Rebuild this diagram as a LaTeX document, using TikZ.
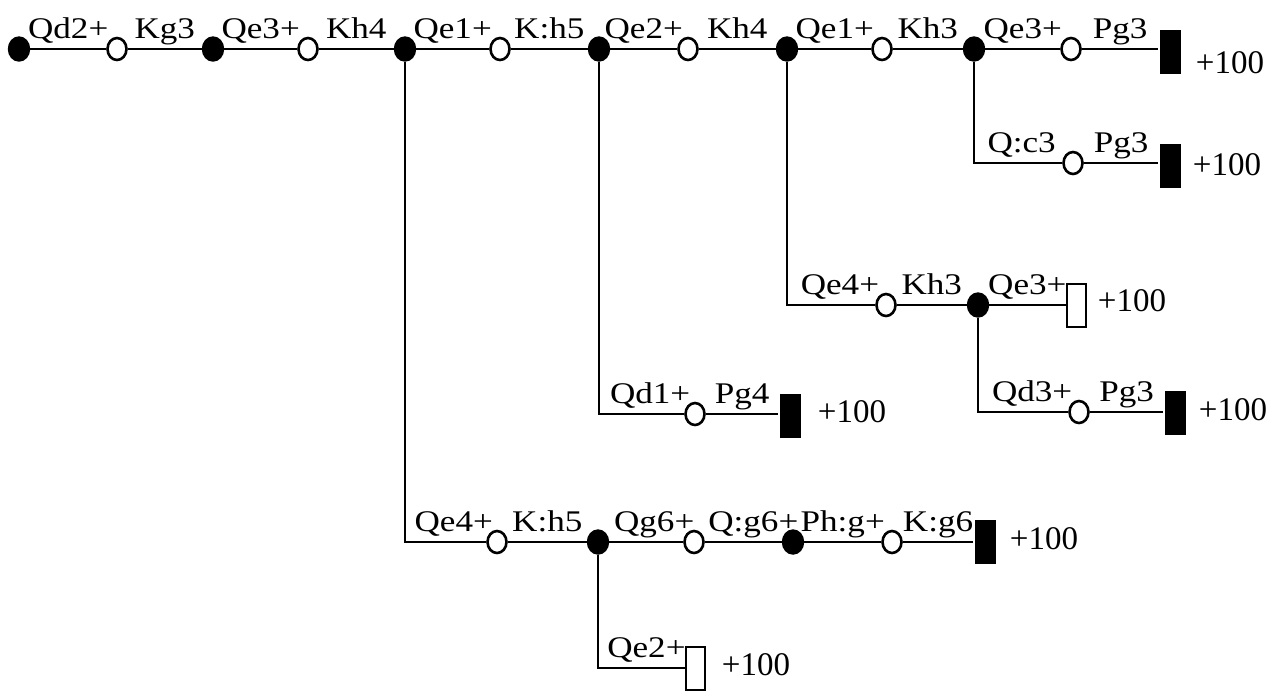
\documentclass[tikz,border=0pt]{standalone}
\usepackage{fontspec}
\setmainfont{Liberation Serif}
\newfontfamily\movefont[FakeStretch=1.17]{Liberation Serif}
\usepackage{tikz}
\usetikzlibrary{shapes.geometric}

\begin{document}
\begin{tikzpicture}[x=0.5pt,y=-0.5pt,line width=1.2pt,
		dot/.style={ellipse,draw,fill=black,minimum width=10pt,minimum height=11.5pt,inner sep=0pt},
		ring/.style={ellipse,draw,fill=white,line width=1.3pt,minimum width=9.5pt,minimum height=11pt,inner sep=0pt},
		wonbox/.style={rectangle,fill=black,minimum width=10.5pt,minimum height=22pt,inner sep=0pt},
		openbox/.style={rectangle,draw,fill=white,line width=1pt,minimum width=9.5pt,minimum height=21.5pt,inner sep=0pt},
		mv/.style={anchor=base,yshift=5.5pt,inner sep=0pt,font=\movefont\fontsize{15}{17}\selectfont},
		val/.style={inner sep=0pt,font=\fontsize{16.5}{18}\selectfont}]
			\useasboundingbox (0,0) rectangle (1283,698);
			% main line
			\node[dot] (s0) at (19,49) {};
			\node[ring] (o1) at (117,49) {};
			\node[dot] (s1) at (213,49) {};
			\node[ring] (o2) at (308,49) {};
			\node[dot] (s2) at (405,49) {};
			\node[ring] (o3) at (500,49) {};
			\node[dot] (s3) at (599,49) {};
			\node[ring] (o4) at (688,49) {};
			\node[dot] (s4) at (787,49) {};
			\node[ring] (o5) at (882,49) {};
			\node[dot] (s5) at (974,49) {};
			\node[ring] (o6) at (1071,49) {};
			\node[wonbox] (t1) at (1170,52) {};
			\node[val] (v1) at (1230,63) {+100};
			\draw (s0) -- node[mv,midway] {Qd2+} (o1);
			\draw (o1) -- node[mv,midway] {Kg3} (s1);
			\draw (s1) -- node[mv,midway] {Qe3+} (o2);
			\draw (o2) -- node[mv,midway] {Kh4} (s2);
			\draw (s2) -- node[mv,midway] {Qe1+} (o3);
			\draw (o3) -- node[mv,midway] {K:h5} (s3);
			\draw (s3) -- node[mv,midway] {Qe2+} (o4);
			\draw (o4) -- node[mv,midway] {Kh4} (s4);
			\draw (s4) -- node[mv,midway] {Qe1+} (o5);
			\draw (o5) -- node[mv,midway] {Kh3} (s5);
			\draw (s5) -- node[mv,midway] {Qe3+} (o6);
			\draw (o6) -- node[mv,midway] {Pg3} (t1.west|-o6);
			% branch after Kh3
			\node[ring] (o7) at (1073,163) {};
			\node[wonbox] (t2) at (1170,166) {};
			\node[val] (v2) at (1227,165) {+100};
			\draw (s5) |- node[mv,pos=0.77] {Q:c3} (o7);
			\draw (o7) -- node[mv,midway] {Pg3} (t2.west|-o7);
			% branch after the second Kh4
			\node[ring] (o8) at (886,305) {};
			\node[dot] (s6) at (978,305) {};
			\node[openbox] (t3) at (1076,305) {};
			\node[val] (v3) at (1132,301) {+100};
			\draw (s4) |- node[mv,pos=0.8] {Qe4+} (o8);
			\draw (o8) -- node[mv,midway] {Kh3} (s6);
			\draw (s6) -- node[mv,midway] {Qe3+} (t3);
			\node[ring] (o9) at (1079,412) {};
			\node[wonbox] (t4) at (1175,413) {};
			\node[val] (v4) at (1233,410) {+100};
			\draw (s6) |- node[mv,pos=0.8] {Qd3+} (o9);
			\draw (o9) -- node[mv,midway] {Pg3} (t4.west|-o9);
			% branch after K:h5
			\node[ring] (o10) at (695,414) {};
			\node[wonbox] (t5) at (790,416) {};
			\node[val] (v5) at (852,412) {+100};
			\draw (s3) |- node[mv,pos=0.8] {Qd1+} (o10);
			\draw (o10) -- node[mv,midway] {Pg4} (t5.west|-o10);
			% branch after the first Kh4
			\node[ring] (o11) at (497,542) {};
			\node[dot] (s7) at (598,542) {};
			\node[ring] (o12) at (694,542) {};
			\node[dot] (s8) at (793,542) {};
			\node[ring] (o13) at (892,542) {};
			\node[wonbox] (t6) at (985,542) {};
			\node[val] (v6) at (1044,539) {+100};
			\draw (s2) |- node[mv,pos=0.8] {Qe4+} (o11);
			\draw (o11) -- node[mv,midway] {K:h5} (s7);
			\draw (s7) -- node[mv,midway,xshift=4pt] {Qg6+} (o12);
			\draw (o12) -- node[mv,midway,xshift=5pt] {Q:g6+} (s8);
			\draw (s8) -- node[mv,midway] {Ph:g+} (o13);
			\draw (o13) -- node[mv,midway] {K:g6} (t6);
			\node[openbox] (t7) at (695,668) {};
			\node[val] (v7) at (756,665) {+100};
			\draw (s7) |- node[mv,pos=0.78] {Qe2+} (t7);
		\end{tikzpicture}
\end{document}
